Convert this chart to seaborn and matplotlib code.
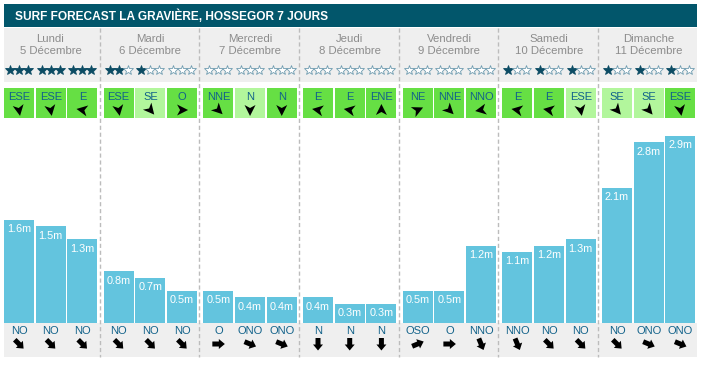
import numpy as np
import pandas as pd
import matplotlib
matplotlib.use("Agg")
import matplotlib.pyplot as plt
import seaborn as sns
from matplotlib.patches import Rectangle, Polygon

# ---------------- data ----------------
title = "SURF FORECAST LA GRAVIÈRE, HOSSEGOR 7 JOURS"
day_names = ["Lundi", "Mardi", "Mercredi", "Jeudi", "Vendredi", "Samedi", "Dimanche"]
day_dates = ["5 Décembre", "6 Décembre", "7 Décembre", "8 Décembre",
             "9 Décembre", "10 Décembre", "11 Décembre"]
wave_heights = [1.6, 1.5, 1.3,
                0.8, 0.7, 0.5,
                0.5, 0.4, 0.4,
                0.4, 0.3, 0.3,
                0.5, 0.5, 1.2,
                1.1, 1.2, 1.3,
                2.1, 2.8, 2.9]
star_ratings = [3, 3, 3,
                2, 1, 0,
                0, 0, 0,
                0, 0, 0,
                0, 0, 0,
                1, 1, 1,
                1, 1, 1]
wind_dirs = ["ESE", "ESE", "E",
             "ESE", "SE", "O",
             "NNE", "N", "N",
             "E", "E", "ENE",
             "NE", "NNE", "NNO",
             "E", "E", "ESE",
             "SE", "SE", "ESE"]
wind_light = [0, 0, 0,
              0, 1, 0,
              0, 1, 0,
              0, 0, 0,
              0, 0, 0,
              0, 0, 1,
              1, 1, 0]
swell_dirs = ["NO", "NO", "NO",
              "NO", "NO", "NO",
              "O", "ONO", "ONO",
              "N", "N", "N",
              "OSO", "O", "NNO",
              "NNO", "NO", "NO",
              "NO", "ONO", "ONO"]

# ---------------- style ----------------
FONT = "Liberation Sans"
W, H = 702, 366
TEAL = "#02566b"
GREY_BG = "#efefef"
BAR = "#63c4de"
GREEN = "#66df44"
LGREEN = "#b2f69c"
DIR_TXT = "#12628a"
DAY_TXT = "#8c8c8c"
STAR = "#0c4c64"

DAY_W = 99.67
SLOT_W = 31.7
BAR_W = 30.0
X0 = 4.0
BASE_Y = 323.0
TOP_Y = 120.0
PX_PER_M = 64.5

compass = ["N", "NNE", "NE", "ENE", "E", "ESE", "SE", "SSE",
           "S", "SSO", "SO", "OSO", "O", "ONO", "NO", "NNO"]
# screen angle of the wind-icon tip for each label (as drawn in the source)
wind_icon_angle = {"E": 170, "ESE": -80, "SE": -50, "O": 0, "NNE": -45,
                   "N": -90, "NE": 25, "NNO": 190, "ENE": 90}

sns.set_theme(style="white")
plt.rcParams["font.family"] = [FONT, "DejaVu Sans"]

fig = plt.figure(figsize=(W / 100, H / 100), dpi=100)
ov = fig.add_axes([0, 0, 1, 1])
ov.set_xlim(0, W)
ov.set_ylim(H, 0)
ov.axis("off")

n = len(wave_heights)
day_idx = np.arange(n) // 3
slot_idx = np.arange(n) % 3
lefts = X0 + day_idx * DAY_W + slot_idx * SLOT_W
centers = lefts + BAR_W / 2

# background bands
ov.add_patch(Rectangle((4, 4), 693, 23, color=TEAL, lw=0))
ov.add_patch(Rectangle((4, 28), 693, 54, color=GREY_BG, lw=0))
ov.add_patch(Rectangle((4, BASE_Y), 693, 357 - BASE_Y, color=GREY_BG, lw=0))
ov.text(15, 16, title, color="white", fontsize=8.6, fontweight="bold",
        ha="left", va="center")

# day separators
for k in range(1, 7):
    xs = X0 + k * DAY_W - 4
    ov.plot([xs, xs], [28, 357], color="#bcbcbc", lw=1, ls=(0, (3, 2)))

# day headers
for k in range(7):
    cx = X0 + k * DAY_W + 46.5
    ov.text(cx, 39, day_names[k], color=DAY_TXT, fontsize=8.2, ha="center", va="center")
    ov.text(cx, 51, day_dates[k], color=DAY_TXT, fontsize=8.2, ha="center", va="center")


def rot_poly(cx, cy, pts, ang):
    t = np.deg2rad(ang)
    c, s = np.cos(t), np.sin(t)
    return [(cx + a * c - p * s, cy - (a * s + p * c)) for a, p in pts]


wind_shape = [(6, 0), (-5, 5.5), (-2, 0), (-5, -5.5)]
swell_shape = [(6.5, 0), (0.5, 5), (0.5, 2.5), (-6, 2.5), (-6, -2.5), (0.5, -2.5), (0.5, -5)]

for i in range(n):
    cx = centers[i]
    # stars
    for j in range(3):
        sx = cx + (j - 1) * 9
        filled = j < star_ratings[i]
        ov.plot(sx, 70, marker="*", ms=7,
                mfc=STAR if filled else "white",
                mec=STAR if filled else "#6f9cb0",
                mew=0.6, ls="none")
    # wind box
    ov.add_patch(Rectangle((lefts[i], 88), BAR_W, 30,
                           color=LGREEN if wind_light[i] else GREEN, lw=0))
    ov.text(cx, 96.5, wind_dirs[i], color=DIR_TXT, fontsize=8, ha="center", va="center")
    ov.add_patch(Polygon(rot_poly(cx, 110, wind_shape, wind_icon_angle[wind_dirs[i]]),
                         closed=True, color="black", lw=0))
    # swell direction
    ov.text(cx, 331, swell_dirs[i], color=DIR_TXT, fontsize=8, ha="center", va="center")
    bearing = compass.index(swell_dirs[i]) * 22.5 + 180
    ov.add_patch(Polygon(rot_poly(cx, 344, swell_shape, 90 - bearing),
                         closed=True, color="black", lw=0))

# bars
ax = fig.add_axes([0, (H - BASE_Y) / H, 1, (BASE_Y - TOP_Y) / H])
ax.set_zorder(2)
df = pd.DataFrame({"x": centers, "h": wave_heights})
sns.barplot(data=df, x="x", y="h", native_scale=True, width=BAR_W / SLOT_W,
            color=BAR, saturation=1, errorbar=None, linewidth=0, ax=ax)
ax.set_xlim(0, W)
ax.set_ylim(0, (BASE_Y - TOP_Y) / PX_PER_M)
ax.axis("off")
for c, h in zip(centers, wave_heights):
    ax.annotate(f"{h}m", xy=(c, h), xytext=(0, -6.8), textcoords="offset points",
                ha="center", va="center", color="white", fontsize=7.8)

fig.savefig("out.png", dpi=100)
